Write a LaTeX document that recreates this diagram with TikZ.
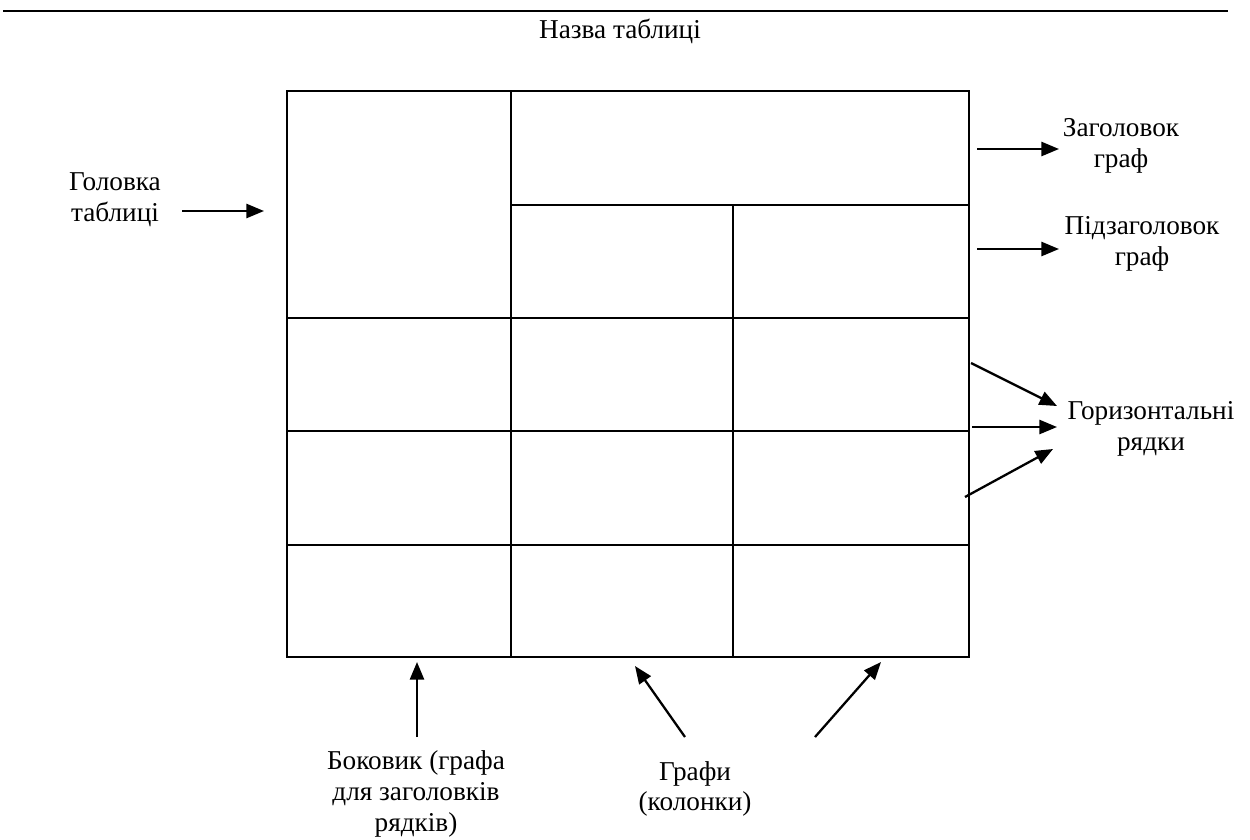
\documentclass[tikz,border=0pt]{standalone}
\usepackage{fontspec}
\setmainfont{Liberation Serif}
\usetikzlibrary{arrows.meta,positioning}

\begin{document}
\begin{tikzpicture}[x=0.02cm,y=-0.02cm,
    font=\fontsize{15.5}{17.5}\selectfont,
    line width=1.1pt,
    pointer/.style={-{Triangle[length=10pt,width=8pt]},line width=1.3pt},
    caption/.style={align=center,inner sep=0pt}]

\useasboundingbox (0,0) rectangle (1250,839);

% rule and title
\draw[line width=1.3pt] (3,11) -- (1228,11);
\node[caption] (title) at (620,31) {Назва таблиці};

% table
\coordinate (tl) at (287,91);
\coordinate (br) at (969,657);
\draw (tl) rectangle (br);
\draw (511,91) -- (511,657);
\draw (733,205) -- (733,657);
\draw (511,205) -- (969,205);
\foreach \y in {318,431,545}
    \draw (287,\y) -- (969,\y);

% labels
\node[caption] (golovka) at (115,200) {Головка\\таблиці};
\node[caption] (zagolovok) at (1121,146) {Заголовок\\граф};
\node[caption] (pidzag) at (1142,244) {Підзаголовок\\граф};
\node[caption] (ryadky) at (1151,429) {Горизонтальні\\рядки};
\node[caption] (bokovyk) at (416,794) {Боковик (графа\\для заголовків\\рядків)};
\node[caption] (grafy) at (695,789) {Графи\\(колонки)};

% arrow ends
\coordinate (g1) at (182,211);
\coordinate (g2) at (264,211);
\coordinate (z1) at (977,149);
\coordinate (z2) at (1059,149);
\coordinate (p1) at (977,249);
\coordinate (p2) at (1059,249);
\coordinate (r1a) at (971,363);
\coordinate (r1b) at (1057,406);
\coordinate (r2a) at (972,427);
\coordinate (r2b) at (1057,427);
\coordinate (r3a) at (965,497);
\coordinate (r3b) at (1053,449);
\coordinate (b1) at (417,737);
\coordinate (b2) at (417,662);
\coordinate (c1a) at (685,737);
\coordinate (c1b) at (635,666);
\coordinate (c2a) at (815,737);
\coordinate (c2b) at (881,662);

\draw[pointer] (g1) -- (g2);
\draw[pointer] (z1) -- (z2);
\draw[pointer] (p1) -- (p2);
\draw[pointer] (r1a) -- (r1b);
\draw[pointer] (r2a) -- (r2b);
\draw[pointer] (r3a) -- (r3b);
\draw[pointer] (b1) -- (b2);
\draw[pointer] (c1a) -- (c1b);
\draw[pointer] (c2a) -- (c2b);

\end{tikzpicture}
\end{document}
